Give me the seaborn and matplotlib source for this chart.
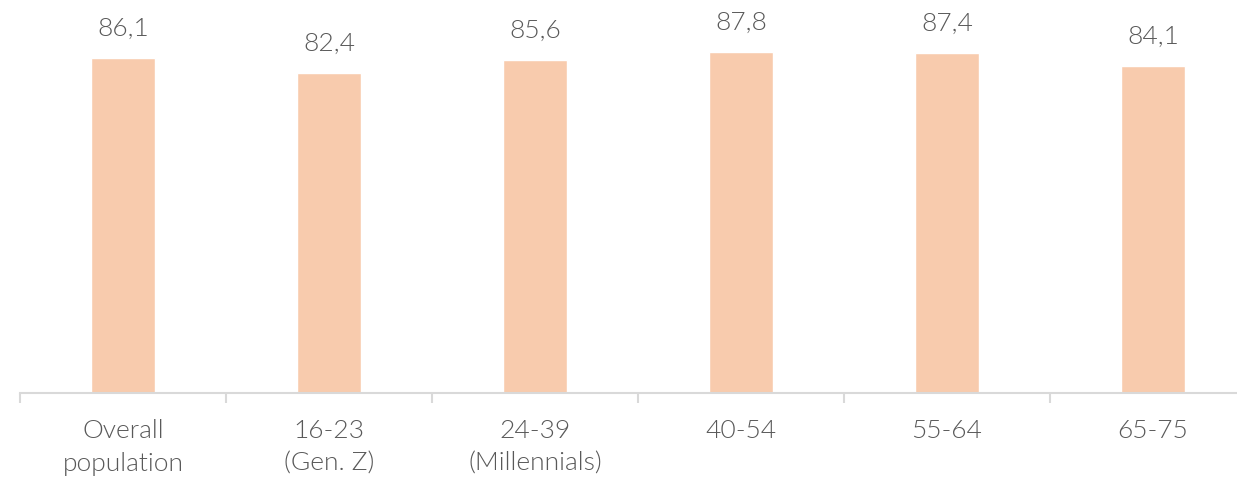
import matplotlib
matplotlib.use("Agg")
import matplotlib.pyplot as plt
import seaborn as sns
import pandas as pd
import numpy as np

categories = ["Overall\npopulation", "16-23\n(Gen. Z)", "24-39\n(Millennials)",
              "40-54", "55-64", "65-75"]
values = [86.1, 82.4, 85.6, 87.8, 87.4, 84.1]
value_labels = ["86,1", "82,4", "85,6", "87,8", "87,4", "84,1"]

sns.set_theme(style="white")
plt.rcParams["font.family"] = ["Lato", "DejaVu Sans"]

W, H = 1237, 481
fig = plt.figure(figsize=(W / 100, H / 100), dpi=100)
# axis baseline sits at y=394px; categories are 206px wide starting at x=20px
ax = fig.add_axes([20 / W, (H - 394) / H, 1236 / W, 394 / H])

df = pd.DataFrame({"group": categories, "value": values})
sns.barplot(data=df, x="group", y="value", color="#F8CBAD", saturation=1,
            width=0.31, ax=ax)

ax.set_ylim(0, 101.3)
ax.set_xlim(-0.5, 5.5)
ax.set_xlabel("")
ax.set_ylabel("")
ax.set_yticks([])

text_color = "#595959"
for i, (v, lab) in enumerate(zip(values, value_labels)):
    ax.annotate(lab, (i, v), xytext=(0, 13), textcoords="offset points",
                ha="center", va="bottom", fontsize=19, color=text_color,
                fontweight=300)

ax.set_xticks(range(len(categories)))
ax.set_xticklabels(categories, fontsize=19, color=text_color,
                   fontweight=300, linespacing=1.45)
ax.tick_params(axis="x", which="major", length=0, pad=18, bottom=True)
ax.set_xticks(np.arange(-0.5, len(categories), 1.0), minor=True)
ax.tick_params(axis="x", which="minor", length=7, width=1.5, color="#D9D9D9",
               direction="out", bottom=True)

for side in ["top", "right", "left"]:
    ax.spines[side].set_visible(False)
ax.spines["bottom"].set_color("#D9D9D9")
ax.spines["bottom"].set_linewidth(1.5)

fig.savefig("out.png", dpi=100)
